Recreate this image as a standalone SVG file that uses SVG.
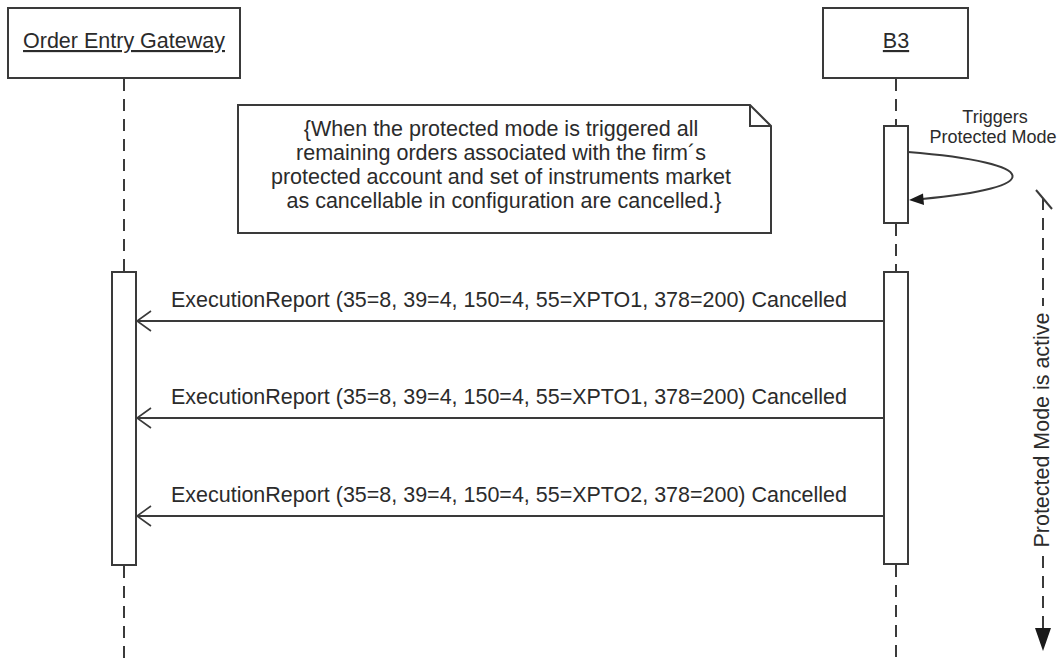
<svg xmlns="http://www.w3.org/2000/svg" width="1062" height="659" viewBox="0 0 1062 659">
<style>
  .box { fill: #fff; stroke: #3a3a3a; stroke-width: 2; }
  .life { stroke: #3a3a3a; stroke-width: 2; stroke-dasharray: 12 8; fill: none; }
  .msg { stroke: #3a3a3a; stroke-width: 2; fill: none; }
  .t { font-family: "Liberation Sans", Arial, sans-serif; fill: #2b2b2b; }
  .lbl { font-size: 21.5px; }
  .small { font-size: 18px; }
</style>
<defs>
  <marker id="open" markerWidth="16" markerHeight="22" refX="15" refY="11" orient="auto" markerUnits="userSpaceOnUse">
    <path d="M1,1 L15,11 L1,21" fill="none" stroke="#3a3a3a" stroke-width="1.6"/>
  </marker>
</defs>
<rect width="1062" height="659" fill="#fff"/>

<g id="lifeline-oeg">
  <rect class="box" x="8" y="8" width="232" height="70"/>
  <text class="t lbl" x="124" y="48" text-anchor="middle" text-decoration="underline">Order Entry Gateway</text>
  <line class="life" x1="124" y1="79" x2="124" y2="272"/>
  <line class="life" x1="124" y1="566" x2="124" y2="659"/>
  <rect class="box" x="112" y="272" width="24" height="293"/>
</g>

<g id="lifeline-b3">
  <rect class="box" x="823" y="8" width="145" height="70"/>
  <text class="t lbl" x="896" y="48" text-anchor="middle" text-decoration="underline">B3</text>
  <line class="life" x1="896" y1="79" x2="896" y2="126"/>
  <line class="life" x1="896" y1="224" x2="896" y2="272"/>
  <line class="life" x1="896" y1="565" x2="896" y2="659"/>
  <rect class="box" x="884" y="126" width="24" height="97"/>
  <rect class="box" x="884" y="272" width="24" height="292"/>
</g>

<g id="note">
  <path class="box" d="M238,105 L750,105 L771,126 L771,233 L238,233 Z"/>
  <path d="M750,105 L750,126 L771,126" fill="none" stroke="#3a3a3a" stroke-width="2"/>
  <text class="t lbl" text-anchor="middle">
    <tspan x="504" y="136">{When the protected mode is triggered all</tspan>
    <tspan x="504" y="160">remaining orders associated with the firm´s</tspan>
    <tspan x="504" y="184">protected account and set of instruments market</tspan>
    <tspan x="504" y="208">as cancellable in configuration are cancelled.}</tspan>
  </text>
</g>

<g id="protected-span">
  <line class="life" x1="1043" y1="198" x2="1043" y2="306"/>
  <path d="M1036,190 L1052,209" stroke="#3a3a3a" stroke-width="2" fill="none"/>
  <text class="t lbl" transform="translate(1049,430) rotate(-90)" text-anchor="middle" textLength="235" lengthAdjust="spacingAndGlyphs">Protected Mode is active</text>
  <line class="life" x1="1043" y1="556" x2="1043" y2="630"/>
  <polygon points="1035,628 1051,628 1043,651" fill="#1a1a1a"/>
</g>

<g id="connectors">
  <g id="self-trigger">
    <path class="msg" d="M908,152 C1045,163 1045,188 922,199"/>
    <polygon points="909,200 923,193.5 924,205" fill="#1a1a1a"/>
    <text class="t small" text-anchor="middle"><tspan x="995" y="123">Triggers</tspan><tspan x="993" y="143">Protected Mode</tspan></text>
  </g>
  <g id="msg1">
    <line class="msg" x1="884" y1="321" x2="137" y2="321" marker-end="url(#open)"/>
    <text class="t lbl" x="171" y="307" textLength="676" lengthAdjust="spacingAndGlyphs">ExecutionReport (35=8, 39=4, 150=4, 55=XPTO1, 378=200) Cancelled</text>
  </g>
  <g id="msg2">
    <line class="msg" x1="884" y1="418" x2="137" y2="418" marker-end="url(#open)"/>
    <text class="t lbl" x="171" y="404" textLength="676" lengthAdjust="spacingAndGlyphs">ExecutionReport (35=8, 39=4, 150=4, 55=XPTO1, 378=200) Cancelled</text>
  </g>
  <g id="msg3">
    <line class="msg" x1="884" y1="516" x2="137" y2="516" marker-end="url(#open)"/>
    <text class="t lbl" x="171" y="502" textLength="676" lengthAdjust="spacingAndGlyphs">ExecutionReport (35=8, 39=4, 150=4, 55=XPTO2, 378=200) Cancelled</text>
  </g>
</g>
</svg>
